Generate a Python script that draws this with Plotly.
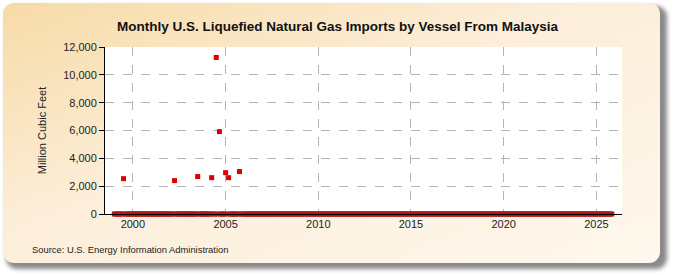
import base64
import plotly.graph_objects as go

# ---- data ----
start_month = "1999-01"
end_month = "2025-11"
nonzero_months = ["1999-07", "2002-04", "2003-07", "2004-04", "2004-07",
                  "2004-09", "2005-01", "2005-03", "2005-10"]
nonzero_values = [2540, 2400, 2690, 2610, 11250, 5920, 2970, 2610, 3050]
x_tick_years = [2000, 2005, 2010, 2015, 2020, 2025]
y_ticks = [0, 2000, 4000, 6000, 8000, 10000, 12000]

# build monthly series (all other months are zero)
lookup = dict(zip(nonzero_months, nonzero_values))
sy, sm = map(int, start_month.split("-"))
ey, em = map(int, end_month.split("-"))
dates, values = [], []
y, m = sy, sm
while (y, m) <= (ey, em):
    key = f"{y:04d}-{m:02d}"
    dates.append(key + "-01")
    values.append(lookup.get(key, 0))
    m += 1
    if m > 12:
        m = 1
        y += 1

W, H = 675, 275
L, R, T, B = 105, 53, 47, 61
pw, ph = W - L - R, H - T - B

svg = f'''<svg xmlns="http://www.w3.org/2000/svg" width="{W}" height="{H}" viewBox="0 0 {W} {H}">
<defs>
<linearGradient id="g" x1="0" y1="0" x2="1" y2="1">
<stop offset="0" stop-color="#F7DBA6"/>
<stop offset="0.45" stop-color="#FCEEDA"/>
<stop offset="1" stop-color="#FFF8EE"/>
</linearGradient>
<filter id="f" x="-5%" y="-5%" width="110%" height="110%"><feGaussianBlur stdDeviation="2"/></filter>
</defs>
<rect x="0" y="0" width="{W}" height="{H}" fill="#FFFFFF"/>
<rect x="6" y="6" width="661" height="263" rx="11" ry="11" fill="#8A8A8A" filter="url(#f)"/>
<rect x="3" y="3" width="657" height="260" rx="11" ry="11" fill="url(#g)"/>
</svg>'''
src = "data:image/svg+xml;base64," + base64.b64encode(svg.encode()).decode()

colors = ["#B81414" if v == 0 else "#DD0000" for v in values]

fig = go.Figure()
fig.add_trace(go.Scatter(
    x=dates, y=values, mode="markers",
    marker=dict(symbol="square", size=5, color=colors, line=dict(width=0)),
    cliponaxis=False, showlegend=False, hoverinfo="x+y",
))

fig.update_layout(
    width=W, height=H,
    margin=dict(l=L, r=R, t=T, b=B),
    paper_bgcolor="white",
    plot_bgcolor="rgba(0,0,0,0)",
    font=dict(family="Liberation Sans, Arial, sans-serif", size=11, color="#222"),
    title=dict(
        text="Monthly U.S. Liquefied Natural Gas Imports by Vessel From Malaysia",
        font=dict(family="Liberation Sans Narrow, Arial Narrow, Liberation Sans, sans-serif",
                  size=13.5, color="#111", weight="bold"),
        x=0.5, xanchor="center", xref="container", y=1 - 26 / H, yanchor="middle",
    ),
    xaxis=dict(
        type="date",
        range=["1998-07-01", "2026-05-20"],
        tickvals=[f"{yr}-01-01" for yr in x_tick_years],
        ticktext=[str(yr) for yr in x_tick_years],
        showgrid=True, gridcolor="#B4B4B4", griddash="dash", gridwidth=1,
        showline=True, linecolor="black", linewidth=1,
        ticks="", tickfont=dict(size=11, color="#222"),
        zeroline=False, fixedrange=True,
    ),
    yaxis=dict(
        range=[0, 12000],
        tickvals=y_ticks,
        tickformat=",d",
        showgrid=True, gridcolor="#B4B4B4", griddash="dash", gridwidth=1,
        showline=True, linecolor="black", linewidth=1,
        ticks="outside", ticklen=5, tickcolor="black",
        tickfont=dict(size=11, color="#222"),
        zeroline=False, fixedrange=True,
        title=dict(text="Million Cubic Feet", font=dict(size=11, color="#222"), standoff=14),
    ),
    images=[dict(
        source=src, xref="paper", yref="paper",
        x=-L / pw, y=1 + T / ph, sizex=W / pw, sizey=H / ph,
        xanchor="left", yanchor="top", sizing="stretch", layer="below",
    )],
    shapes=[dict(type="rect", xref="paper", yref="paper", x0=0, x1=1, y0=0, y1=1,
                 fillcolor="white", line=dict(width=0), layer="below")],
    annotations=[dict(
        text="Source: U.S. Energy Information Administration",
        xref="paper", yref="paper", x=(30 - L) / pw, y=-(249 - (T + ph)) / ph,
        xanchor="left", yanchor="middle", showarrow=False,
        font=dict(size=9.4, color="#222"),
    )],
)

fig.write_html("out.html")
